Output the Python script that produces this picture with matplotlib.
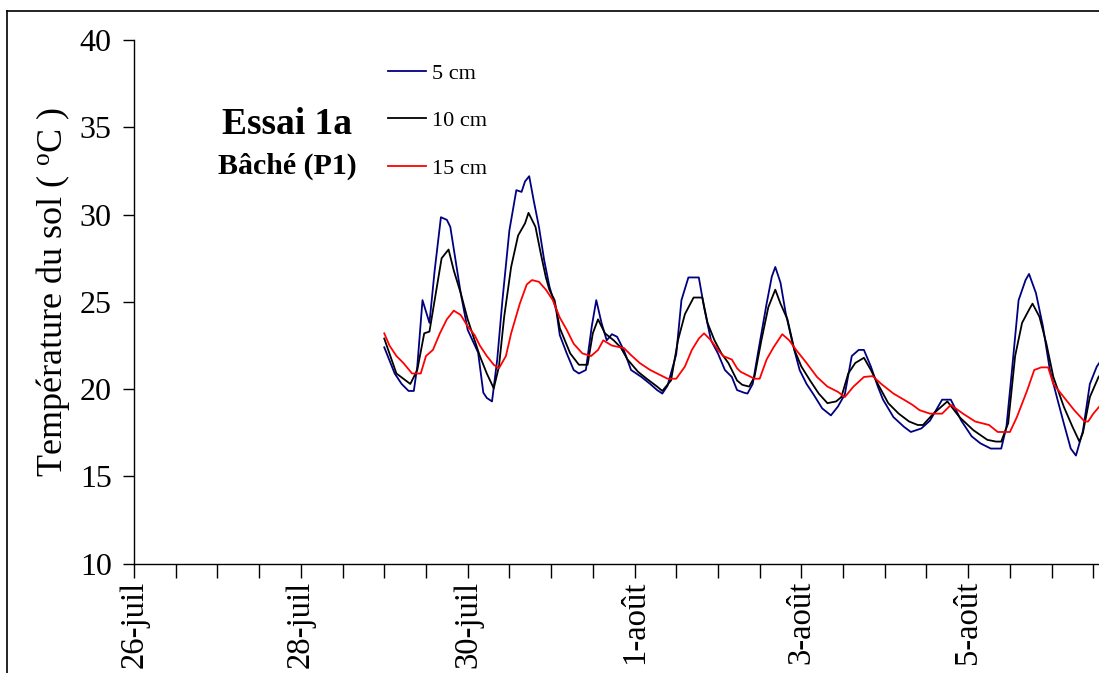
import matplotlib
matplotlib.use("Agg")
import matplotlib.pyplot as plt
import numpy as np
from matplotlib.ticker import FixedLocator, FuncFormatter
from matplotlib.lines import Line2D

plt.rcParams['font.family'] = ['Liberation Serif', 'DejaVu Serif']
plt.rcParams['mathtext.fontset'] = 'custom'
plt.rcParams['mathtext.rm'] = 'Liberation Serif'

# Hours after 29-juil 00:00 and temperatures (°C)
h_5 = [0, 3, 5, 7, 8.5, 9.5, 11, 13, 14.5, 16.3, 18, 19, 20.5, 22, 24, 27, 28.5, 29.5, 31,
       32.5, 34, 36, 38, 39.5, 40.5, 41.7, 43, 44.5, 46, 47.5, 49.5, 50.5, 52.5, 54.5, 56,
       58, 59.7, 61, 62.5, 64, 65.5, 67, 69, 71, 74, 76.5, 78.5, 80, 81.5, 84, 85.5, 87.5,
       90.5, 92, 94, 96, 98, 100, 101.5, 103.5, 104.5, 106, 107.5, 110, 111.5, 112.5, 114,
       115.5, 117.5, 119.5, 121.5, 123.5, 126, 128.5, 130.5, 132.5, 134.5, 136.5, 138, 140,
       142, 143.5, 146.5, 149.5, 151.5, 154.5, 157, 160.5, 163, 166, 169, 171.5, 174.5,
       177.5, 179, 180.5, 182.5, 184.5, 185.5, 187.5, 189.5, 191.5, 193.5, 195.5, 197.5,
       199, 201, 203, 205, 205.7]
t_5 = [22.4, 20.9, 20.3, 19.9, 19.9, 21.3, 25.1, 23.8, 26.8, 29.85, 29.7, 29.3, 27.4, 25.5,
       23.4, 22.1, 19.8, 19.5, 19.3, 21.7, 25.1, 29.1, 31.4, 31.3, 31.9, 32.2, 30.8, 29.3,
       27.4, 25.9, 24.5, 23.1, 22.05, 21.1, 20.9, 21.1, 23.6, 25.1, 23.8, 22.8, 23.15, 23.0,
       22.2, 21.1, 20.7, 20.3, 19.95, 19.75, 20.2, 22.0, 25.1, 26.4, 26.4, 24.7, 22.8, 22.05,
       21.1, 20.7, 19.95, 19.8, 19.75, 20.3, 22.05, 24.9, 26.45, 27.0, 26.1, 24.35, 22.6,
       21.1, 20.3, 19.7, 18.9, 18.5, 19.0, 19.7, 21.9, 22.25, 22.25, 21.3, 20.15, 19.4, 18.4,
       17.85, 17.55, 17.75, 18.2, 19.4, 19.4, 18.2, 17.3, 16.9, 16.6, 16.6, 17.85, 20.9,
       25.1, 26.25, 26.6, 25.5, 23.6, 21.1, 19.55, 18.05, 16.6, 16.2, 17.6, 20.3, 21.3, 21.5]

h_10 = [0, 3.5, 7.5, 9.5, 11.5, 13, 14.5, 16.5, 18.5, 20, 22, 24, 26, 27.5, 29.5, 31.5, 33,
        34.5, 36.5, 38.5, 40.5, 41.5, 43.5, 45, 46.5, 47.5, 49, 50.5, 53.5, 56, 58.5, 60,
        61.5, 63.5, 66, 68, 70, 73, 75.5, 78.5, 80, 82.5, 84.5, 86.5, 89, 91.5, 93, 95, 97,
        99, 101.5, 103, 105, 106.5, 108.5, 110.5, 112.5, 114, 116, 118, 120, 122.5, 125,
        127.5, 130, 131.5, 133.5, 135.5, 138, 140, 142, 145, 148, 151, 153.5, 155, 158, 162,
        165.5, 169.5, 173.5, 176, 177.5, 179.5, 181.5, 183.5, 185.5, 186.5, 188.5, 190.5,
        192.5, 195.5, 198, 200, 201, 203, 205.5, 205.7]
t_10 = [22.9, 20.9, 20.3, 21.1, 23.2, 23.3, 25.1, 27.5, 28.0, 26.8, 25.5, 24.0, 22.8, 21.9,
        20.9, 20.05, 21.3, 24.15, 27.0, 28.8, 29.5, 30.1, 29.3, 27.8, 26.4, 25.7, 25.1, 23.5,
        22.05, 21.4, 21.4, 23.2, 24.0, 23.2, 22.8, 22.4, 21.7, 21.0, 20.6, 20.15, 19.9, 20.5,
        22.8, 24.3, 25.25, 25.25, 23.8, 22.8, 22.05, 21.5, 20.5, 20.25, 20.15, 20.7, 22.8,
        24.7, 25.7, 24.9, 24.0, 22.25, 21.3, 20.5, 19.75, 19.2, 19.3, 19.55, 20.9, 21.5, 21.8,
        21.1, 20.3, 19.2, 18.6, 18.15, 17.95, 17.95, 18.6, 19.3, 18.4, 17.65, 17.1, 17.0, 17.0,
        18.05, 21.9, 23.8, 24.55, 24.9, 24.15, 22.6, 20.7, 19.0, 17.85, 17.0, 17.5, 19.55,
        20.7, 20.75]

h_15 = [0, 1.5, 3.5, 5.5, 8, 10.5, 12, 14, 16, 18, 20, 22, 24, 26, 27.5, 29.5, 31.5, 33,
        35, 36.5, 39, 41, 42.5, 44.5, 46.5, 48.5, 50.5, 52.5, 54.5, 57, 59.5, 61.5, 63, 65.5,
        69, 71, 73.5, 76.5, 79.5, 81.5, 84, 86.5, 88.5, 90.5, 92, 94, 96, 97.5, 100, 101.5,
        102.5, 104.5, 106.5, 108, 110, 112, 114.5, 116.5, 118.5, 121.5, 124.5, 127.5, 130.5,
        132.5, 135, 138, 140.5, 143, 146.5, 149.5, 152, 154, 157, 160.5, 163, 166.5, 170,
        174, 176.5, 180, 182, 185, 187, 189, 191, 192.5, 195.5, 198.5, 201.5, 202.5, 204,
        205.7]
t_15 = [23.2, 22.5, 21.9, 21.5, 20.9, 20.9, 21.9, 22.25, 23.2, 24.0, 24.5, 24.25, 23.6,
        23.1, 22.5, 21.9, 21.4, 21.2, 21.9, 23.2, 24.9, 26.0, 26.25, 26.15, 25.7, 25.1, 24.1,
        23.4, 22.6, 22.05, 21.9, 22.25, 22.8, 22.5, 22.35, 21.95, 21.5, 21.1, 20.8, 20.6,
        20.6, 21.3, 22.25, 22.9, 23.2, 22.8, 22.25, 21.9, 21.7, 21.2, 21.0, 20.8, 20.6, 20.6,
        21.7, 22.4, 23.15, 22.8, 22.25, 21.5, 20.7, 20.15, 19.85, 19.55, 20.15, 20.7, 20.75,
        20.3, 19.75, 19.4, 19.1, 18.8, 18.6, 18.6, 19.1, 18.6, 18.15, 17.95, 17.55, 17.55,
        18.4, 19.95, 21.1, 21.25, 21.25, 20.3, 19.55, 18.8, 18.15, 18.15, 18.6, 19.0]

labels = ['5 cm', '10 cm', '15 cm']
colors = ['#000080', '#000000', '#FF0000']
tick_days = [0, 2, 4, 6, 8, 10]
tick_labels = ['26-juil', '28-juil', '30-juil', '1-août', '3-août', '5-août']
start_day = 3  # 29-juil relative to 26-juil

W, H = 1099, 673
fig = plt.figure(figsize=(W / 100, H / 100), dpi=100)
ax = fig.add_axes([134 / W, (H - 563.8) / H, (W - 134) / W, (563.8 - 40) / H])

for hh, tt, lab, col in zip([h_5, h_10, h_15], [t_5, t_10, t_15], labels, colors):
    d = start_day + np.array(hh) / 24.0
    ax.plot(d, tt, color=col, lw=1.3, label=lab)

ax.set_xlim(0, (W - 134) / 83.42)
ax.set_ylim(10, 40)
ax.set_yticks([10, 15, 20, 25, 30, 35, 40])
ax.xaxis.set_major_locator(FixedLocator(np.arange(0, 12, 0.5)))
lab_map = dict(zip(tick_days, tick_labels))
ax.xaxis.set_major_formatter(FuncFormatter(
    lambda v, p: lab_map.get(int(round(v)), '') if abs(v - round(v)) < 1e-6 else ''))
for s in ['top', 'right']:
    ax.spines[s].set_visible(False)
for s in ['left', 'bottom']:
    ax.spines[s].set_linewidth(1.0)
ax.tick_params(axis='x', direction='out', length=10, width=1, pad=2,
               labelsize=23.5, labelrotation=90)
ax.tick_params(axis='y', direction='out', length=8, width=1, pad=8, labelsize=23)
ax.set_ylabel('Température du sol ( $\\mathregular{^{o}}$C )', fontsize=26)
ax.yaxis.set_label_coords((72 - 134) / (W - 134), (563.8 - 292) / (563.8 - 40))

leg = ax.legend(loc='upper left', bbox_to_anchor=(388 / W, 1 - 63 / H),
                bbox_transform=fig.transFigure, frameon=False, fontsize=16,
                handlelength=1.7, handletextpad=0.3, labelspacing=1.22,
                borderpad=0, borderaxespad=0)

fig.text(287 / W, 1 - 125 / H, 'Essai 1a', fontsize=27, fontweight='bold',
         ha='center', va='center')
fig.text(287 / W, 1 - 166 / H, 'Bâché (P1)', fontsize=21.5, fontweight='bold',
         ha='center', va='center')

# outer chart frame (cropped on right and bottom)
fig.add_artist(Line2D([7 / W, 1.0], [1 - 11 / H, 1 - 11 / H], transform=fig.transFigure,
                      color='black', lw=1.2))
fig.add_artist(Line2D([7 / W, 7 / W], [0, 1 - 11 / H], transform=fig.transFigure,
                      color='black', lw=1.2))

fig.savefig('out.png', dpi=100)
